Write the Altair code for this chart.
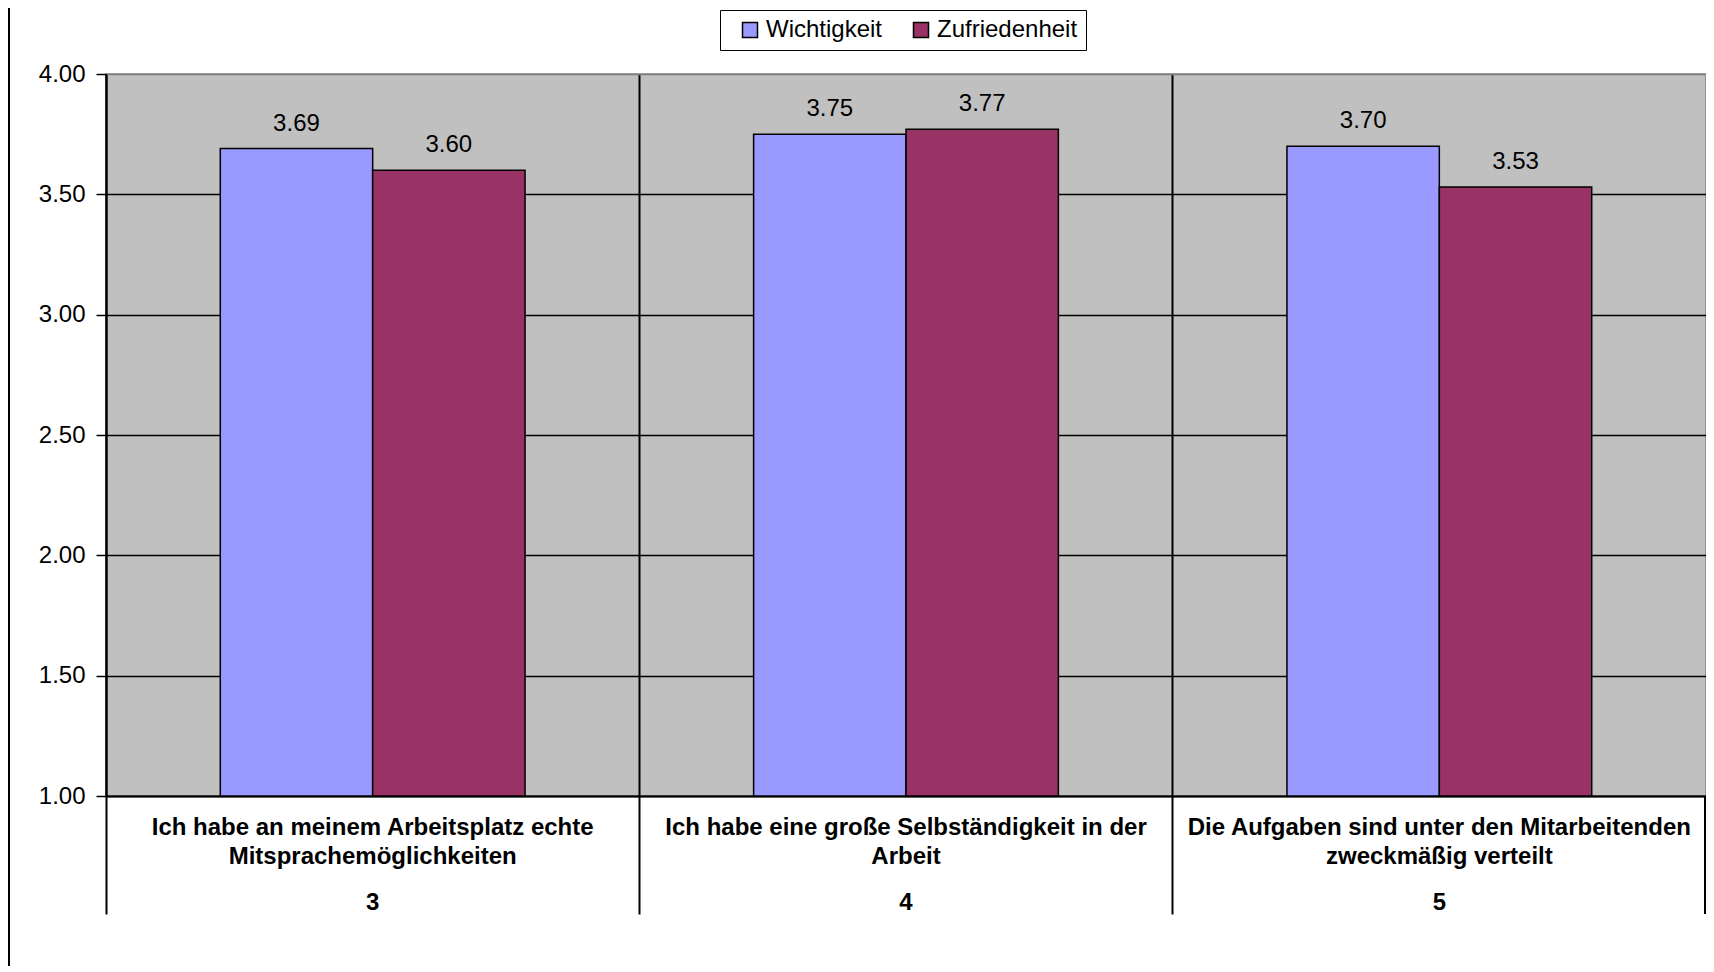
import altair as alt
import pandas as pd

# ---- data ----
categories = [
    "Ich habe an meinem Arbeitsplatz echte|Mitsprachemöglichkeiten",
    "Ich habe eine große Selbständigkeit in der|Arbeit",
    "Die Aufgaben sind unter den Mitarbeitenden|zweckmäßig verteilt",
]
numbers = ["3", "4", "5"]
series = ["Wichtigkeit", "Zufriedenheit"]
wichtigkeit = [3.69, 3.75, 3.70]
zufriedenheit = [3.60, 3.77, 3.53]
y_ticks = [1.0, 1.5, 2.0, 2.5, 3.0, 3.5, 4.0]
colors = ["#9999FF", "#993366"]

rows = []
for c, n, w, z in zip(categories, numbers, wichtigkeit, zufriedenheit):
    rows.append({"cat": c, "nr": n, "series": series[0], "value": w})
    rows.append({"cat": c, "nr": n, "series": series[1], "value": z})
df = pd.DataFrame(rows)
cat_df = pd.DataFrame({"cat": categories, "nr": numbers})

W, H = 1600, 722
FONT = "Liberation Sans"

x_enc = alt.X(
    "cat:N",
    sort=categories,
    scale=alt.Scale(paddingInner=0, paddingOuter=0),
    axis=alt.Axis(
        title=None,
        bandPosition=0,
        labelAngle=0,
        labelExpr="split(datum.label, '|')",
        labelFont=FONT,
        labelFontSize=24,
        labelFontWeight="bold",
        labelColor="black",
        labelLineHeight=29,
        labelBaseline="top",
        labelPadding=-99,
        labelLimit=0,
        tickSize=118,
        tickWidth=2,
        tickColor="black",
        domainColor="black",
        domainWidth=2,
        grid=True,
        gridColor="black",
        gridWidth=2,
    ),
)

y_enc = alt.Y(
    "value:Q",
    scale=alt.Scale(domain=[1, 4], zero=False, nice=False),
    axis=alt.Axis(
        title=None,
        values=y_ticks,
        format=".2f",
        labelFont=FONT,
        labelFontSize=24,
        labelColor="black",
        labelPadding=11,
        tickSize=10,
        tickWidth=1.5,
        tickColor="black",
        domainColor="black",
        domainWidth=2,
        grid=True,
        gridColor={"condition": {"test": "datum.value == 4", "value": "#808080"}, "value": "black"},
        gridWidth=1.5,
    ),
)

xoff = alt.XOffset(
    "series:N",
    sort=series,
    scale=alt.Scale(paddingInner=0, paddingOuter=0.75),
)

bars = alt.Chart(df).mark_bar(stroke="black", strokeWidth=1.5).encode(
    x=x_enc,
    xOffset=xoff,
    y=y_enc,
    y2=alt.datum(1),
    color=alt.Color(
        "series:N",
        sort=series,
        scale=alt.Scale(domain=series, range=colors),
        legend=alt.Legend(
            title=None,
            orient="none",
            direction="horizontal",
            legendX=614,
            legendY=-64,
            symbolType="square",
            symbolSize=225,
            symbolStrokeColor="black",
            symbolStrokeWidth=1.5,
            symbolOffset=10,
            labelFont=FONT,
            labelFontSize=24,
            labelColor="black",
            labelOffset=4,
            columnPadding=16,
            padding=8,
            strokeColor="black",
            fillColor="white",
        ),
    ),
)

labels = alt.Chart(df).mark_text(
    font=FONT, fontSize=24, color="black", baseline="middle", dy=-25
).encode(
    x=alt.X("cat:N", sort=categories),
    xOffset=xoff,
    y=alt.Y("value:Q"),
    text=alt.Text("value:Q", format=".2f"),
)

nums = alt.Chart(cat_df).mark_text(
    font=FONT, fontSize=24, fontWeight="bold", color="black", baseline="middle"
).encode(
    x=alt.X("cat:N", sort=categories),
    y=alt.value(H + 107),
    text="nr:N",
)

right_tick = alt.Chart(cat_df.head(1)).mark_rule(color="black", strokeWidth=2).encode(
    x=alt.value(W - 1), y=alt.value(H), y2=alt.value(H + 118)
)

left_border = alt.Chart(cat_df.head(1)).mark_rule(color="black", strokeWidth=2).encode(
    x=alt.value(-97), y=alt.value(-66), y2=alt.value(H + 170)
)

chart = (
    alt.layer(bars, labels, nums, right_tick, left_border)
    .properties(
        width=W,
        height=H,
        autosize=alt.AutoSizeParams(type="none"),
        padding={"left": 98, "top": 66, "right": 0, "bottom": 170},
        background="white",
    )
    .configure_view(fill="#C0C0C0", stroke="#808080", strokeWidth=1.5)
)

chart.save("out.html", embed_options={"renderer": "svg", "actions": False})
